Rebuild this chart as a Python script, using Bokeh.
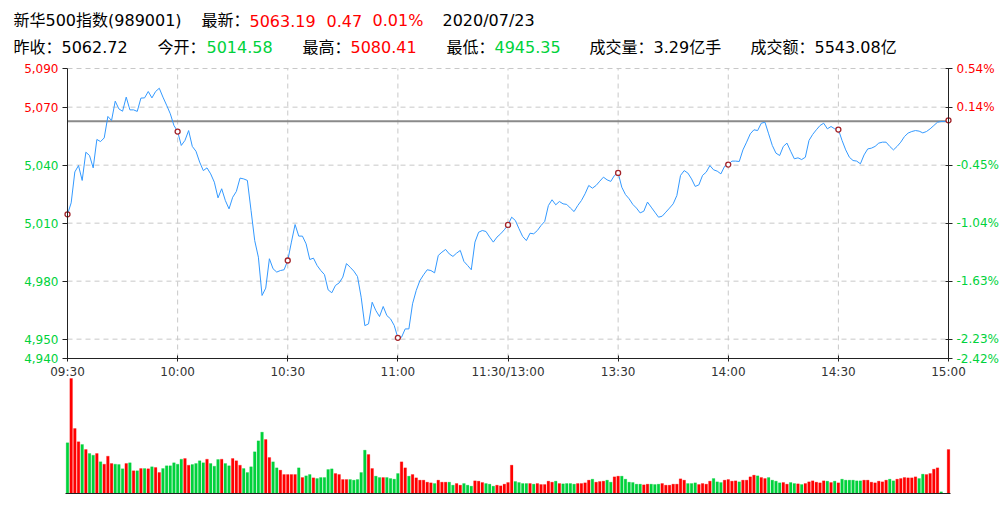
from bokeh.plotting import figure
from bokeh.models import Range1d, FixedTicker, ColumnDataSource, LinearAxis
from bokeh.embed import file_html
from bokeh.resources import INLINE
from bokeh.core.properties import value

# ---------------- data ----------------
prev_close = 5062.72
open_price = 5014.58
last_price = 5063.19
high_price = 5080.41
low_price = 4945.35

price = [
    5014.58, 5020.5, 5036.5, 5039.8, 5032.1, 5046.7, 5045.0, 5038.6, 5053.3, 5052.2,
    5054.1, 5065.2, 5063.1, 5073.1, 5069.1, 5067.9, 5075.2, 5068.6, 5068.6, 5067.8,
    5074.7, 5074.8, 5078.1, 5074.8, 5078.1, 5079.8, 5075.2, 5071.0, 5066.6, 5060.5,
    5057.4, 5050.2, 5052.8, 5057.9, 5049.7, 5047.2, 5041.6, 5037.2, 5038.6, 5035.5,
    5031.2, 5023.1, 5027.8, 5021.7, 5017.4, 5023.4, 5026.4, 5033.3, 5032.9, 5032.1,
    5016.6, 5001.0, 4992.4, 4972.6, 4976.4, 4991.6, 4986.4, 4984.7, 4985.5, 4985.9,
    4990.7, 5000.2, 5009.3, 5003.3, 5003.3, 4999.3, 4991.2, 4991.9, 4988.1, 4985.5,
    4983.4, 4975.5, 4974.0, 4977.8, 4979.1, 4982.1, 4989.1, 4987.2, 4985.2, 4982.4,
    4971.7, 4957.0, 4957.9, 4969.1, 4964.8, 4961.7, 4966.9, 4962.2, 4960.5, 4957.1,
    4950.7, 4951.0, 4955.3, 4955.3, 4968.3, 4975.2, 4980.3, 4983.3, 4985.9, 4985.5,
    4984.3, 4993.3, 4995.0, 4996.4, 4994.1, 4992.8, 4994.5, 4995.9, 4990.2, 4988.1,
    4985.9, 5000.2, 5005.3, 5006.2, 5005.7, 5002.8, 5000.2, 5002.8, 5004.5, 5006.6,
    5009.1, 5013.1, 5011.4, 5007.1, 5003.1, 5001.0, 5004.8, 5004.5, 5006.2, 5008.8,
    5010.9, 5019.1, 5022.1, 5019.5, 5021.2, 5020.0, 5019.7, 5017.8, 5016.0, 5019.1,
    5021.7, 5025.2, 5029.5, 5028.1, 5029.5, 5031.7, 5033.8, 5032.4, 5031.6, 5034.7,
    5036.0, 5028.6, 5024.8, 5022.6, 5019.7, 5017.8, 5015.3, 5016.2, 5020.9, 5018.3,
    5015.7, 5013.1, 5013.6, 5015.7, 5017.8, 5020.0, 5024.3, 5034.7, 5037.2, 5035.9,
    5032.9, 5029.0, 5029.8, 5034.7, 5036.4, 5039.8, 5037.6, 5036.9, 5035.5, 5039.4,
    5040.3, 5042.1, 5042.1, 5041.9, 5047.9, 5051.9, 5056.2, 5058.3, 5057.9, 5061.7,
    5062.2, 5056.2, 5050.2, 5046.2, 5045.0, 5049.7, 5051.4, 5047.2, 5043.3, 5043.8,
    5042.9, 5044.1, 5052.8, 5055.9, 5058.3, 5060.5, 5061.7, 5058.8, 5060.0, 5058.8,
    5058.4, 5052.8, 5047.9, 5044.1, 5042.4, 5042.1, 5040.7, 5045.3, 5048.4, 5048.8,
    5049.7, 5051.4, 5051.9, 5051.9, 5049.7, 5047.9, 5049.7, 5051.9, 5054.8, 5056.6,
    5057.4, 5057.9, 5057.6, 5056.7, 5057.4, 5058.8, 5060.5, 5062.2, 5062.6, 5062.6,
    5063.19,
]

volume = [
    152, 345, 195, 155, 147, 132, 120, 115, 120, 95,
    88, 112, 90, 88, 87, 74, 90, 92, 68, 68,
    75, 75, 74, 80, 78, 63, 75, 83, 83, 92,
    88, 103, 105, 85, 87, 90, 98, 92, 103, 90,
    82, 102, 103, 90, 83, 105, 98, 85, 75, 63,
    80, 125, 158, 184, 162, 108, 95, 77, 70, 57,
    57, 57, 57, 77, 48, 53, 57, 47, 45, 48,
    48, 72, 74, 60, 57, 42, 42, 42, 40, 42,
    63, 130, 117, 75, 52, 48, 48, 48, 45, 43,
    60, 95, 77, 52, 57, 47, 40, 40, 34, 32,
    30, 40, 34, 34, 34, 25, 30, 25, 30, 25,
    22, 38, 37, 33, 30, 28, 22, 25, 23, 28,
    33, 85, 36, 33, 30, 30, 30, 28, 30, 27,
    27, 37, 34, 37, 30, 29, 30, 30, 28, 30,
    30, 32, 40, 43, 34, 36, 37, 40, 34, 50,
    52, 52, 43, 34, 33, 28, 28, 26, 28, 28,
    27, 28, 30, 25, 25, 28, 28, 44, 40, 30,
    30, 32, 27, 30, 28, 37, 45, 35, 33, 40,
    42, 37, 38, 35, 40, 40, 50, 55, 53, 48,
    45, 48, 40, 37, 32, 33, 28, 33, 30, 29,
    27, 30, 35, 38, 34, 32, 38, 37, 33, 37,
    32, 43, 40, 40, 40, 38, 38, 40, 40, 34,
    32, 37, 35, 40, 43, 38, 43, 45, 48, 47,
    47, 50, 45, 58, 57, 60, 73, 77, 5, 0,
    132,
]

# "+" = up minute (red bar), "-" = down minute (green bar)
volume_dir = list(
    "-+++-+--+-" "+++---+-+-" "+-+-++----" "--++----+-" "--+--+++--"
    "----++--++" "+++-+--+--" "---++++---" "--++--+---" "-++-++++++"
    "-+++--++--" "-+++---+++" "++----+-++" "+++-+----+" "+++-+++--+"
    "+------++-" "--+++++++-" "--++++---+" "+++-++++-+" "+----++--+"
    "-++++++-+-" "+------+++" "++++--++++" "++--++++--" "+"
)

x_tick_minutes = [0, 30, 60, 90, 120, 150, 180, 210, 240]
x_tick_labels = ["09:30", "10:00", "10:30", "11:00", "11:30/13:00", "13:30", "14:00", "14:30", "15:00"]
y_ticks = [4940, 4950, 4980, 5010, 5040, 5070, 5090]

# ---------------- layout constants (page pixels) ----------------
W, H = 1008, 510
PX_L, PX_R = 67, 948          # price frame left / right
PX_T, PX_B = 68, 358          # price frame top (5090) / bottom (4940)
VOL_T, VOL_B = 378, 493       # volume panel top / baseline

RED = "#ff0000"
GREEN = "#00d23c"
FONT = "DejaVu Sans, Noto Sans CJK SC"
AX = "#222222"

t0, t1 = x_tick_minutes[0], x_tick_minutes[-1]
y_lo, y_hi = min(y_ticks), max(y_ticks)
kx = (PX_R - PX_L) / (t1 - t0)
ky = (PX_B - PX_T) / (y_hi - y_lo)
kv = (VOL_B - VOL_T) / max(volume)

p = figure(width=W, height=H,
           x_range=Range1d(t0 - PX_L / kx, t0 + (W - PX_L) / kx),
           y_range=Range1d(y_lo - (H - PX_B) / ky, y_hi + PX_T / ky),
           output_backend="svg", toolbar_location=None,
           x_axis_location=None, y_axis_location=None,
           min_border_left=0, min_border_right=0, min_border_top=0, min_border_bottom=0)
p.extra_y_ranges = {"vol": Range1d(-(H - VOL_B) / kv, VOL_B / kv),
                    "px": Range1d(H, 0)}
p.extra_x_ranges = {"px": Range1d(0, W)}
p.outline_line_color = None
p.grid.visible = False

# ---------------- header ----------------
chg = last_price - prev_close
chg_pct = chg / prev_close * 100
hdr_items = [
    (13, 20, "新华500指数(989001)", "black"),
    (201, 20, "最新：", "black"),
    (249, 20, f"{last_price:.2f}", RED),
    (326, 20, f"{chg:.2f}", RED),
    (372, 20, f"{chg_pct:.2f}%", RED),
    (442, 20, "2020/07/23", "black"),
    (13, 46.5, "昨收：", "black"),
    (61, 46.5, f"{prev_close:.2f}", "black"),
    (157, 46.5, "今开：", "black"),
    (206, 46.5, f"{open_price:.2f}", GREEN),
    (302, 46.5, "最高：", "black"),
    (350, 46.5, f"{high_price:.2f}", RED),
    (446, 46.5, "最低：", "black"),
    (494, 46.5, f"{low_price:.2f}", GREEN),
    (589, 46.5, "成交量：", "black"),
    (653, 46.5, "3.29亿手", "black"),
    (750, 46.5, "成交额：", "black"),
    (814, 46.5, "5543.08亿", "black"),
]
hsrc = ColumnDataSource(dict(x=[h[0] for h in hdr_items], y=[h[1] for h in hdr_items],
                             t=[h[2] for h in hdr_items], c=[h[3] for h in hdr_items]))
p.text(x="x", y="y", text="t", text_color="c", source=hsrc,
       x_range_name="px", y_range_name="px",
       text_font=value(FONT), text_font_size="16px", text_baseline="middle", text_align="left")

# ---------------- grid lines ----------------
hg = [v for v in y_ticks if v != y_lo]
p.segment(x0=[t0] * len(hg), y0=hg, x1=[t1] * len(hg), y1=hg,
          line_color="#c8c8c8", line_dash="5 4", line_width=1)
vg = x_tick_minutes[1:-1]
p.segment(x0=vg, y0=[y_lo] * len(vg), x1=vg, y1=[y_hi] * len(vg),
          line_color="#c8c8c8", line_dash="5 4", line_width=1)

# previous close reference line
p.segment(x0=[t0], y0=[prev_close], x1=[t1], y1=[prev_close], line_color="#8a8a8a", line_width=2)

# ---------------- price line ----------------
minutes = list(range(len(price)))
p.line(minutes, price, line_color="#3399ff", line_width=1)
mk_y = [price[m] for m in x_tick_minutes]
p.scatter(x_tick_minutes, mk_y, marker="circle", size=5, fill_color="white",
          line_color="#a3242a", line_width=1.3)

# ---------------- axes ----------------
def pct(v):
    return f"{(v - prev_close) / prev_close * 100:.2f}%"

up_ticks = [v for v in y_ticks if v > prev_close]
dn_ticks = [v for v in y_ticks if v <= prev_close]


def y_axis(ticks, fmt, color, loc, side, line):
    ax = LinearAxis(ticker=FixedTicker(ticks=ticks), fixed_location=loc, bounds=(y_lo, y_hi),
                    major_label_overrides={v: fmt(v) for v in ticks})
    ax.major_label_text_color = color
    ax.major_label_text_font = "DejaVu Sans"
    ax.major_label_text_font_size = "12px"
    ax.major_label_standoff = 4
    ax.major_tick_in = 0 if side == "left" else 3
    ax.major_tick_out = 5 if side == "left" else 4
    ax.minor_tick_line_color = None
    ax.major_tick_line_color = AX
    ax.axis_line_color = AX if line else None
    p.add_layout(ax, side)


y_axis(dn_ticks, lambda v: f"{v:,}", GREEN, t0, "left", True)
y_axis(up_ticks, lambda v: f"{v:,}", RED, t0, "left", False)
y_axis(dn_ticks, pct, GREEN, t1, "right", True)
y_axis(up_ticks, pct, RED, t1, "right", False)

xax = LinearAxis(ticker=FixedTicker(ticks=x_tick_minutes), fixed_location=y_lo, bounds=(t0, t1),
                 major_label_overrides={m: lab for m, lab in zip(x_tick_minutes, x_tick_labels)})
xax.major_label_text_font = "DejaVu Sans"
xax.major_label_text_font_size = "12px"
xax.major_label_text_color = "#333333"
xax.major_label_standoff = 3
xax.major_tick_in = 3
xax.major_tick_out = 3
xax.minor_tick_line_color = None
xax.axis_line_color = AX
xax.major_tick_line_color = AX
p.add_layout(xax, "below")

# ---------------- volume ----------------
bar_colors = [RED if d == "+" else GREEN for d in volume_dir]
p.vbar(x=minutes, top=volume, bottom=0, width=0.72, y_range_name="vol",
       fill_color=bar_colors, line_color=bar_colors, line_alpha=0.5, line_width=0.5)

vax = LinearAxis(y_range_name="vol", fixed_location=0, ticker=FixedTicker(ticks=[]),
                 bounds=(t0 - 0.5, t1 + 0.5))
vax.minor_tick_line_color = None
vax.major_tick_line_color = None
vax.axis_line_color = AX
p.add_layout(vax, "below")

open("out.html", "w").write(file_html(p, INLINE))
